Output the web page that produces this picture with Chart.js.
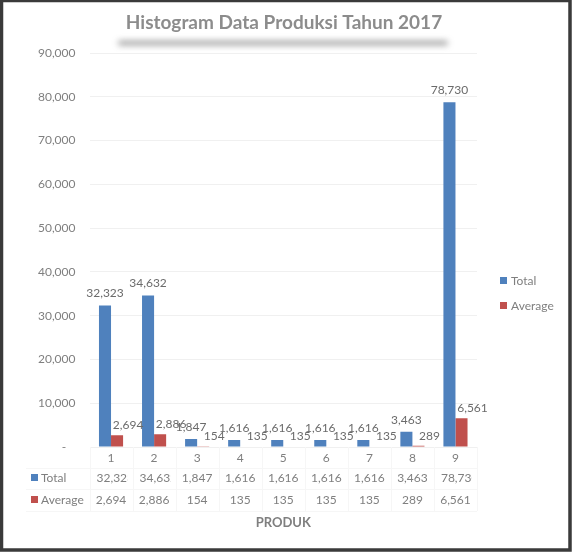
<!DOCTYPE html>
<html>
<head>
<meta charset="utf-8">
<script src="https://cdn.jsdelivr.net/npm/chart.js@4"></script>
<style>
  html, body { margin: 0; padding: 0; background: #fff; }
</style>
</head>
<body>
<canvas id="histChart" width="574" height="559"></canvas>
<script>
const categories = ["1", "2", "3", "4", "5", "6", "7", "8", "9"];
const totalValues = [32323, 34632, 1847, 1616, 1616, 1616, 1616, 3463, 78730];
const averageValues = [2694, 2886, 154, 135, 135, 135, 135, 289, 6561];
const seriesNames = ["Total", "Average"];
const seriesColors = ["#4F81BD", "#C0504D"];
const yTicks = { min: 0, max: 90000, step: 10000 };

const FONT = "Lato, 'Open Sans', sans-serif";
const GREY = "#7f7f7f";
const fmt = (v) => v.toLocaleString("en-US");

// data labels above bars (Excel style, average label nudged right)
const barLabels = {
  id: "barLabels",
  afterDatasetsDraw(chart) {
    const { ctx, chartArea } = chart;
    ctx.save();
    ctx.font = "12px " + FONT;
    ctx.fillStyle = "#6b6b6b";
    ctx.textAlign = "center";
    ctx.textBaseline = "middle";
    chart.data.datasets.forEach((ds, di) => {
      chart.getDatasetMeta(di).data.forEach((bar, i) => {
        const txt = fmt(ds.data[i]);
        if (di === 0) {
          ctx.fillText(txt, bar.x, Math.min(bar.y - 12, chartArea.bottom - 17));
        } else {
          ctx.fillText(txt, bar.x + 11, Math.min(bar.y - 10, chartArea.bottom - 5));
        }
      });
    });
    ctx.restore();
  },
};

// title, data table, legend, frame
const decorations = {
  id: "decorations",
  afterDraw(chart) {
    const { ctx, chartArea, scales } = chart;
    const x = scales.x;
    const half = (x.getPixelForValue(1) - x.getPixelForValue(0)) / 2;
    ctx.save();

    // title + blurred underline
    ctx.save();
    ctx.filter = "blur(3px)";
    ctx.strokeStyle = "rgba(70,70,70,0.6)";
    ctx.lineWidth = 4;
    ctx.lineCap = "round";
    ctx.beginPath();
    ctx.moveTo(120, 43);
    ctx.lineTo(446, 43);
    ctx.stroke();
    ctx.restore();
    ctx.font = "bold 19px " + FONT;
    ctx.fillStyle = "#8c8c8c";
    ctx.textAlign = "center";
    ctx.textBaseline = "middle";
    ctx.fillText("Histogram Data Produksi Tahun 2017", 284, 23);

    // table grid (very faint)
    const rowsY = [478, 500];
    const top = chartArea.bottom, bottom = 511;
    ctx.strokeStyle = "#f6f6f6";
    ctx.lineWidth = 1;
    ctx.beginPath();
    [468, 489, bottom].forEach((yy) => {
      ctx.moveTo(26, yy + 0.5);
      ctx.lineTo(chartArea.right, yy + 0.5);
    });
    for (let i = 0; i <= categories.length; i++) {
      const xx = Math.round(x.getPixelForValue(i) - half) + 0.5;
      ctx.moveTo(xx, top);
      ctx.lineTo(xx, bottom);
    }
    ctx.stroke();

    // table rows
    ctx.font = "12px " + FONT;
    ctx.textBaseline = "middle";
    [totalValues, averageValues].forEach((vals, r) => {
      const y = rowsY[r];
      ctx.fillStyle = seriesColors[r];
      ctx.fillRect(31, y - 4, 7, 7);
      ctx.fillStyle = GREY;
      ctx.textAlign = "left";
      ctx.fillText(seriesNames[r], 41, y);
      vals.forEach((v, i) => {
        const cx = x.getPixelForValue(i);
        const txt = fmt(v);
        const w = ctx.measureText(txt).width;
        ctx.save();
        ctx.beginPath();
        ctx.rect(cx - half, y - 10, half * 2 - 5, 20);
        ctx.clip();
        if (w > half * 2 - 12) {
          ctx.textAlign = "left";
          ctx.fillText(txt, cx - half + 7, y);
        } else {
          ctx.textAlign = "center";
          ctx.fillText(txt, cx, y);
        }
        ctx.restore();
      });
    });

    // axis title
    ctx.font = "bold 13px " + FONT;
    ctx.fillStyle = GREY;
    ctx.textAlign = "center";
    ctx.fillText("PRODUK", (chartArea.left + chartArea.right) / 2, 523);

    // legend on the right
    ctx.font = "12px " + FONT;
    ctx.textAlign = "left";
    seriesNames.forEach((name, k) => {
      const y = 281 + k * 25;
      ctx.fillStyle = seriesColors[k];
      ctx.fillRect(500, y - 4, 7, 7);
      ctx.fillStyle = GREY;
      ctx.fillText(name, 511, y);
    });

    // outer frame
    ctx.strokeStyle = "#3a3a3a";
    ctx.lineWidth = 3.5;
    ctx.strokeRect(1.5, 0.5, 568.5, 549.5);
    ctx.restore();
  },
};

new Chart(document.getElementById("histChart").getContext("2d"), {
  type: "bar",
  data: {
    labels: categories,
    datasets: [
      { label: seriesNames[0], data: totalValues, backgroundColor: seriesColors[0] },
      { label: seriesNames[1], data: averageValues, backgroundColor: seriesColors[1] },
    ],
  },
  options: {
    responsive: false,
    animation: false,
    categoryPercentage: 0.56,
    barPercentage: 1,
    layout: { padding: { left: 10, right: 97, top: 53, bottom: 90 } },
    plugins: { legend: { display: false }, tooltip: { enabled: false } },
    scales: {
      x: {
        grid: { display: false, drawTicks: false },
        border: { display: false },
        ticks: { color: GREY, font: { family: FONT, size: 12 }, padding: 4 },
        afterFit: (s) => { s.height = 22; },
      },
      y: {
        min: yTicks.min,
        max: yTicks.max,
        grid: { color: "#f0f0f0", drawTicks: false },
        border: { display: false },
        ticks: {
          stepSize: yTicks.step,
          color: GREY,
          font: { family: FONT, size: 12 },
          padding: 14,
          callback: (v) => (v === 0 ? "-   " : fmt(v)),
        },
        afterFit: (s) => { s.width = 79.5; },
      },
    },
  },
  plugins: [barLabels, decorations],
});
</script>
</body>
</html>
